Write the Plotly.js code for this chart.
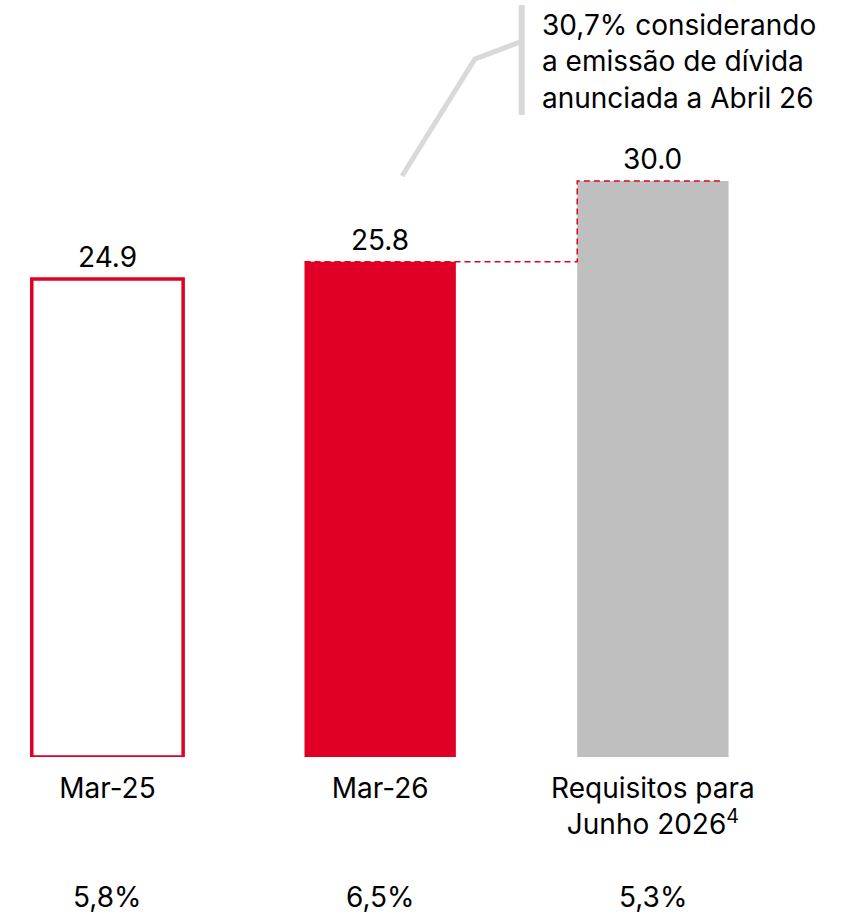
<!DOCTYPE html>
<html>
<head>
<meta charset="utf-8">
<script src="https://cdn.plot.ly/plotly-3.0.1.min.js"></script>
<style>html,body{margin:0;padding:0;background:#fff;}#chart{width:852px;height:915px;}</style>
</head>
<body>
<div id="chart"></div>
<script>
// Data
const categories = ["Mar-25", "Mar-26", "Requisitos para<br>Junho 2026<sup>4</sup>"];
const values = [24.9, 25.8, 30.0];
const ratios = ["5,8%", "6,5%", "5,3%"];
const noteText = "30,7% considerando<br>a emissão de dívida<br>anunciada a Abril 26";

const RED = "#E00025";
const GRAY = "#BFBFBF";
const FONT = "Inter, 'Open Sans', sans-serif";
const W = 0.555;
const idx = categories.map((c, i) => i);

const bars = {
  type: "bar",
  x: idx,
  y: values,
  width: W,
  marker: {
    color: ["#FFFFFF", RED, GRAY],
    line: { color: [RED, RED, GRAY], width: [3.5, 0, 0] }
  },
  hoverinfo: "skip",
  cliponaxis: false
};

// dashed step connector from Mar-26 top to Requisitos top
const stepX = [1 - W / 2, 2 - W / 2, 2 - W / 2, 2 + W / 2 - 0.03];
const stepY = [values[1], values[1], values[2], values[2]];
const step = {
  type: "scatter", mode: "lines", x: stepX, y: stepY,
  line: { color: RED, width: 1.5, dash: "6px,4px" },
  hoverinfo: "skip", cliponaxis: false
};

const annotations = [];
values.forEach((v, i) => {
  annotations.push({
    x: i, y: v, xref: "x", yref: "y", text: v.toFixed(1),
    showarrow: false, yanchor: "bottom", yshift: 3,
    font: { family: FONT, size: 28, color: "#000" }
  });
});
ratios.forEach((r, i) => {
  annotations.push({
    x: i, y: 0, xref: "x", yref: "paper", text: r,
    showarrow: false, yanchor: "middle", yshift: -140,
    font: { family: FONT, size: 28, color: "#000" }
  });
});
annotations.push({
  x: 1.586, y: 36.22, xref: "x", yref: "y", text: noteText,
  showarrow: false, xanchor: "left", yanchor: "middle", align: "left",
  font: { family: FONT, size: 28, color: "#000" }
});

const shapes = [
  { type: "path", xref: "x", yref: "y",
    path: "M 1.080 30.26 L 1.347 36.35 L 1.512 37.24",
    line: { color: "#D9D9D9", width: 5 } },
  { type: "line", xref: "x", yref: "y", x0: 1.519, x1: 1.519, y0: 33.44, y1: 39.17,
    line: { color: "#D9D9D9", width: 6 } }
];

const layout = {
  width: 852, height: 915,
  margin: { l: 0, r: 0, t: 0, b: 158 },
  paper_bgcolor: "#fff", plot_bgcolor: "#fff",
  showlegend: false,
  font: { family: FONT, size: 28, color: "#000" },
  xaxis: {
    type: "linear", range: [-0.394, 2.730],
    tickvals: idx, ticktext: categories,
    showgrid: false, zeroline: false, showline: false, ticks: "",
    ticklabelstandoff: 12,
    tickfont: { family: FONT, size: 28, color: "#000" },
    fixedrange: true
  },
  yaxis: {
    range: [0, 39.43], visible: false, fixedrange: true
  },
  annotations: annotations,
  shapes: shapes
};

Plotly.newPlot("chart", [bars, step], layout, { displayModeBar: false, staticPlot: true });
</script>
</body>
</html>
